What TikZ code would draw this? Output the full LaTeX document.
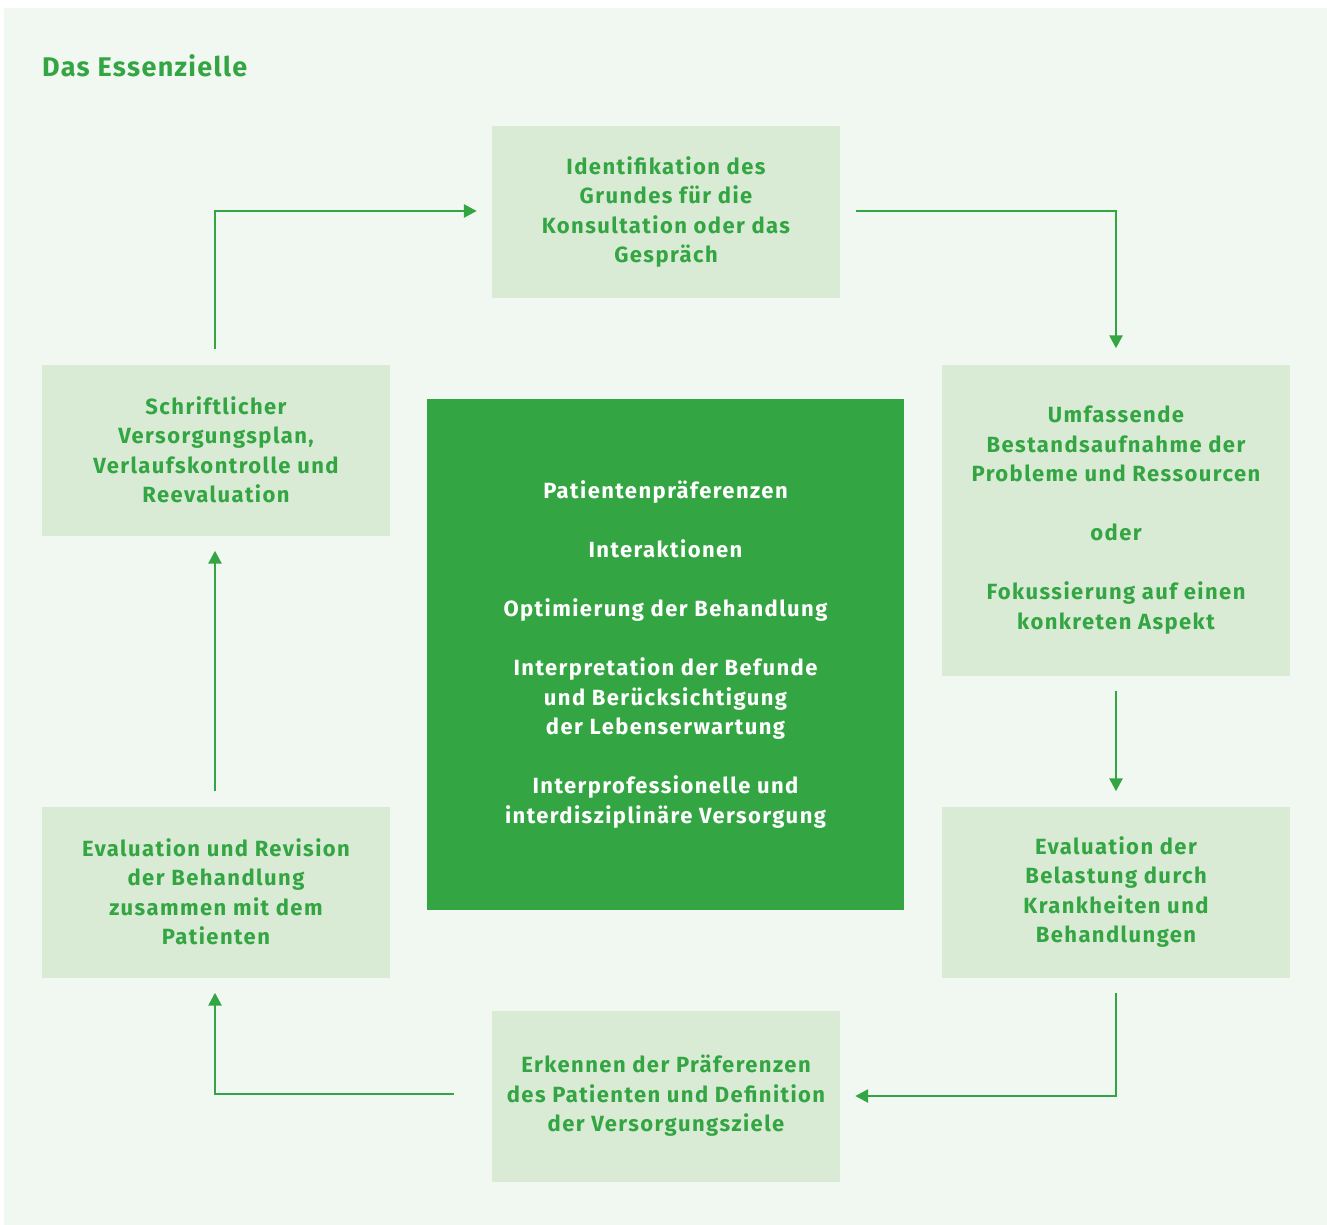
\documentclass[tikz,border=0pt]{standalone}
\usepackage{fontspec}
\setmainfont{Fira Sans}[LetterSpace=5]
\newfontfamily\boxfont{Fira Sans}[LetterSpace=6.5]
\usetikzlibrary{arrows.meta}
\definecolor{panelbg}{HTML}{F1F8F1}
\definecolor{boxbg}{HTML}{D9EBD5}
\definecolor{leaf}{HTML}{34A543}
\begin{document}
\begin{tikzpicture}[x=1pt,y=-1pt,
  stepbox/.style={fill=boxbg, text=leaf, minimum width=348pt, minimum height=171pt,
    align=center, inner sep=0pt, font=\boxfont\fontsize{22}{29.5}\selectfont\bfseries},
  corebox/.style={fill=leaf, text=white, minimum width=477pt, minimum height=511pt,
    align=center, inner sep=0pt, font=\boxfont\fontsize{22}{29.5}\selectfont\bfseries},
  flow/.style={draw=leaf, line width=2.6pt, -{Triangle[length=13pt,width=13pt]}}]
  % canvas and panel
  \useasboundingbox (0,0) rectangle (1327,1225);
  \fill[white] (0,0) rectangle (1327,1225);
  \fill[panelbg] (4,8) rectangle (1327,1225);
  \node[anchor=base west, inner sep=0pt, text=leaf, font=\fontsize{27}{34}\selectfont\bfseries] (title) at (42,77) {Das Essenzielle};

  % process steps
  \node[stepbox] (top) at (666,212) {Identifikation des\\Grundes für die\\Konsultation oder das\\Gespräch};
  \node[stepbox, minimum height=311pt] (ru) at (1116,520) {Umfassende\\Bestandsaufnahme der\\Probleme und Ressourcen\\[29.5pt]oder\\[29.5pt]Fokussierung auf einen\\konkreten Aspekt};
  \node[stepbox] (rl) at (1116,892) {Evaluation der\\Belastung durch\\Krankheiten und\\Behandlungen};
  \node[stepbox] (bot) at (666,1096) {Erkennen der Präferenzen\\des Patienten und Definition\\der Versorgungsziele};
  \node[stepbox] (ll) at (216,892) {Evaluation und Revision\\der Behandlung\\zusammen mit dem\\Patienten};
  \node[stepbox] (lu) at (216,450) {Schriftlicher\\Versorgungsplan,\\Verlaufskontrolle und\\Reevaluation};

  % central themes
  \node[corebox] (core) at (665.5,654.5) {Patientenpräferenzen\\[29.5pt]Interaktionen\\[29.5pt]Optimierung der Behandlung\\[29.5pt]Interpretation der Befunde\\und Berücksichtigung\\der Lebenserwartung\\[29.5pt]Interprofessionelle und\\interdisziplinäre Versorgung};

  % cycle connectors
  \draw[flow] ([xshift=-1pt,yshift=15pt]lu.north) |- ([xshift=-15pt,yshift=1pt]top.west);
  \draw[flow] ([xshift=16pt,yshift=1pt]top.east) -| ([yshift=16pt]ru.north);
  \draw[flow] ([yshift=-15pt]ru.south) -- ([yshift=15pt]rl.north);
  \draw[flow] ([yshift=-15pt]rl.south) |- ([xshift=15pt]bot.east);
  \draw[flow] ([xshift=-38pt,yshift=2pt]bot.west) -| ([xshift=-1pt,yshift=-15pt]ll.south);
  \draw[flow] ([xshift=-1pt,yshift=15pt]ll.north) -- ([xshift=-1pt,yshift=-15pt]lu.south);
\end{tikzpicture}
\end{document}
